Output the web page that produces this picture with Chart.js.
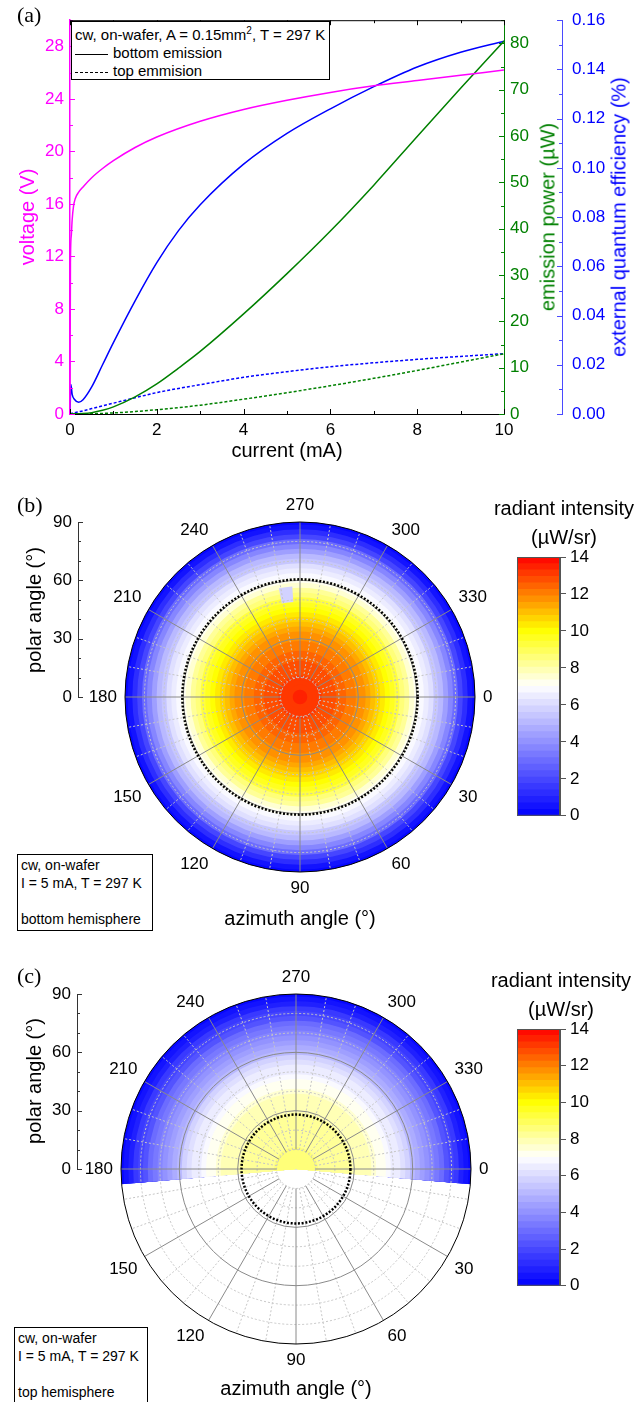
<!DOCTYPE html>
<html>
<head>
<meta charset="utf-8">
<title>LED characteristics and far-field maps</title>
<script src="https://cdn.jsdelivr.net/npm/chart.js@4.4.1/dist/chart.umd.min.js"></script>
<style>
  body { margin: 0; width: 643px; height: 1402px; position: relative; overflow: hidden; background: #fff;
         font-family: "Liberation Sans", Arial, sans-serif; color: #000; }
  canvas { position: absolute; }
  .t { position: absolute; white-space: nowrap; transform: translate(-50%, -50%); font-size: 20px; }
  .r { transform: translate(-50%, -50%) rotate(-90deg); }
  .p { position: absolute; font-family: "Liberation Serif", "Times New Roman", serif; font-size: 22px; }
  .box { position: absolute; border: 1px solid #000; background: #fff; font-size: 14px; line-height: 18px;
         box-sizing: border-box; white-space: nowrap; }
  .ls { display: inline-block; width: 33px; border-top: 1px solid #000; vertical-align: middle; margin: 0 5px 0 0; }
  .ls.dash { border-top: 1px dashed #000; }
</style>
</head>
<body>
<canvas id="chartA" width="643" height="470" style="left:0;top:0"></canvas>
<canvas id="chartB" width="643" height="470" style="left:0;top:490px"></canvas>
<canvas id="barB" width="163" height="340" style="left:480px;top:490px"></canvas>
<canvas id="chartC" width="643" height="442" style="left:0;top:960px"></canvas>
<canvas id="barC" width="163" height="340" style="left:480px;top:960px"></canvas>

<!-- panel (a) text -->
<div class="p" style="left:17px;top:2px">(a)</div>
<div class="box" style="left:71px;top:21px;width:259px;height:59px;font-size:15px;padding:4px 0 0 3px">
  cw, on-wafer, A = 0.15mm<sup style="font-size:10px;line-height:0">2</sup>, T = 297 K<br>
  <span class="ls"></span>bottom emission<br>
  <span class="ls dash"></span>top emmision
</div>
<div class="t r" style="left:27px;top:217px;color:#f0f">voltage (V)</div>
<div class="t r" style="left:548px;top:217px;color:#008000">emission power (µW)</div>
<div class="t r" style="left:619px;top:217px;color:#00f">external quantum efficiency (%)</div>
<div class="t" style="left:287px;top:450px">current (mA)</div>

<!-- panel (b) text -->
<div class="p" style="left:17px;top:492px">(b)</div>
<div class="t" style="left:564px;top:508px">radiant intensity</div>
<div class="t" style="left:564px;top:537px">(µW/sr)</div>
<div class="t r" style="left:34px;top:610px">polar angle (°)</div>
<div class="t" style="left:300px;top:918px">azimuth angle (°)</div>
<div class="box" style="left:17px;top:854px;width:136px;height:77px;padding:1px 0 0 3px">
  cw, on-wafer<br>I = 5 mA, T = 297 K<br><br>bottom hemisphere
</div>

<!-- panel (c) text -->
<div class="p" style="left:17px;top:963px">(c)</div>
<div class="t" style="left:561px;top:980px">radiant intensity</div>
<div class="t" style="left:561px;top:1009px">(µW/sr)</div>
<div class="t r" style="left:34px;top:1081px">polar angle (°)</div>
<div class="t" style="left:296px;top:1388px">azimuth angle (°)</div>
<div class="box" style="left:14px;top:1327px;width:134px;height:80px;padding:1px 0 0 3px">
  cw, on-wafer<br>I = 5 mA, T = 297 K<br><br>top hemisphere
</div>

<script>
Chart.defaults.font.family = '"Liberation Sans", Arial, sans-serif';

// ---------- panel (a): electro-optical characteristics ----------
const currentV = [0, 0.01, 0.03, 0.05, 0.08, 0.12, 0.2, 0.3, 0.5, 0.75, 1, 1.5, 2, 3, 4, 5, 6, 7, 8, 9, 10];
const voltage  = [0, 11.5, 13.6, 14.8, 15.8, 16.4, 16.9, 17.3, 18.0, 18.7, 19.3, 20.3, 21.1, 22.3, 23.2, 23.9, 24.5, 25.0, 25.4, 25.8, 26.2];

const currentL    = [0, 0.02, 0.05, 0.1, 0.2, 0.3, 0.5, 0.75, 1, 1.5, 2, 2.5, 3, 4, 5, 6, 7, 8, 9, 10];
const eqeBottom   = [0, 0.012, 0.008, 0.006, 0.0048, 0.0058, 0.011, 0.020, 0.029, 0.046, 0.0615, 0.0745, 0.085, 0.1015, 0.114, 0.124, 0.133, 0.141, 0.147, 0.1515];
const eqeTop      = [0, 0.0001, 0.0003, 0.0005, 0.0009, 0.0013, 0.0022, 0.0033, 0.0044, 0.0066, 0.0087, 0.0104, 0.0119, 0.0149, 0.0172, 0.0192, 0.0208, 0.0222, 0.0234, 0.0245];
const powerBottom = [0, 0, 0.02, 0.03, 0.05, 0.09, 0.29, 0.8, 1.54, 3.7, 6.5, 9.9, 13.5, 21.6, 30.3, 39.5, 49.4, 59.9, 70.3, 80.5];
const powerTop    = [0, 0, 0, 0, 0, 0.02, 0.06, 0.13, 0.23, 0.53, 0.92, 1.38, 1.9, 3.2, 4.6, 6.1, 7.7, 9.4, 11.2, 13.0];

// ---------- panels (b), (c): radiant intensity vs polar angle ----------
const polarBins = [0, 2.5, 5, 7.5, 10, 12.5, 15, 17.5, 20, 22.5, 25, 27.5, 30, 32.5, 35, 37.5, 40, 42.5, 45,
                   47.5, 50, 52.5, 55, 57.5, 60, 62.5, 65, 67.5, 70, 72.5, 75, 77.5, 80, 82.5, 85, 87.5, 90];
const intensityBottom = [13.3, 13.3, 13.2, 13.1, 13.0, 12.9, 12.8, 12.7, 12.5, 12.4, 12.2, 12.0, 11.8, 11.6, 11.3, 11.0, 10.7, 10.3, 10.0,
                         9.6, 9.2, 8.7, 8.2, 7.6, 7.1, 6.8, 6.4, 6.0, 5.5, 4.9, 4.3, 3.6, 2.8, 2.0, 1.2, 0.5, 0.1];
const intensityTop    = [8.5, 8.5, 8.5, 8.4, 8.4, 8.3, 8.3, 8.3, 8.2, 8.2, 8.1, 8.1, 8.0, 7.9, 7.8, 7.7, 7.5, 7.3, 7.1,
                         6.9, 6.6, 6.3, 6.0, 5.6, 5.2, 4.8, 4.4, 4.0, 3.6, 3.2, 2.8, 2.3, 1.9, 1.4, 0.9, 0.4, 0.1];
// small dip in the bottom map
const spotAzimuth = [259, 266];
const spotPolar   = [49, 57];
const spotValue   = 5.6;

const azimuthTicks = [0, 30, 60, 90, 120, 150, 180, 210, 240, 270, 300, 330];
const cbStep = 0.35;   // colour levels of the colour bar
const D = Math.PI / 180;

// blue -> white -> yellow -> red, stepped like the colour bar
function heatColor(v) {
  const q = (Math.min(Math.floor(v / cbStep), 14 / cbStep - 1) + 0.5) * cbStep;
  let r, g, b;
  if (q <= 7) { r = g = Math.round(255 * q / 7); b = 255; }
  else if (q <= 10) { r = g = 255; b = Math.round(255 * (1 - (q - 7) / 3)); }
  else { r = 255; g = Math.round(255 * (1 - Math.min(1, (q - 10) / 4))); b = 0; }
  return 'rgb(' + r + ',' + g + ',' + b + ')';
}

const xy = (xs, ys) => xs.map((x, i) => ({ x: x, y: ys[i] }));

// inward major/minor ticks in the Origin style
function ticksPlugin(list, topFrame) {
  return {
    id: 'inTicks',
    afterDraw(chart) {
      const ctx = chart.ctx, a = chart.chartArea;
      ctx.save();
      ctx.lineWidth = 1;
      for (const t of list) {
        const s = chart.scales[t.scale];
        ctx.strokeStyle = t.color;
        ctx.beginPath();
        for (const [vals, len] of [[t.major, 5], [t.minor, 3]]) {
          for (const v of vals) {
            const p = Math.round(s.getPixelForValue(v)) + 0.5;
            if (t.side === 'left') { ctx.moveTo(s.right, p); ctx.lineTo(s.right + len, p); }
            else if (t.side === 'right') { ctx.moveTo(s.left, p); ctx.lineTo(s.left - len, p); }
            else if (t.side === 'bottom') { ctx.moveTo(p, s.top); ctx.lineTo(p, s.top - len); }
            else { ctx.moveTo(p, a.top); ctx.lineTo(p, a.top + len); }
          }
        }
        ctx.stroke();
      }
      if (topFrame) {
        ctx.strokeStyle = '#000';
        ctx.beginPath();
        ctx.moveTo(a.left, a.top + 0.5);
        ctx.lineTo(a.right, a.top + 0.5);
        ctx.stroke();
      }
      ctx.restore();
    }
  };
}

const axisBase = (color, size) => ({
  grid: { drawOnChartArea: false, drawTicks: false },
  border: { color: color, width: size || 1 }
});

new Chart(document.getElementById('chartA'), {
  type: 'line',
  data: {
    datasets: [
      { label: 'voltage', data: xy(currentV, voltage), yAxisID: 'yV', borderColor: '#ff00ff' },
      { label: 'power bottom', data: xy(currentL, powerBottom), yAxisID: 'yP', borderColor: '#008000' },
      { label: 'power top', data: xy(currentL, powerTop), yAxisID: 'yP', borderColor: '#008000', borderDash: [3, 2] },
      { label: 'EQE bottom', data: xy(currentL, eqeBottom), yAxisID: 'yE', borderColor: '#0000ff' },
      { label: 'EQE top', data: xy(currentL, eqeTop), yAxisID: 'yE', borderColor: '#0000ff', borderDash: [3, 2] }
    ]
  },
  options: {
    responsive: false,
    animation: false,
    layout: { padding: { top: 20, left: 0, right: 0, bottom: 0 } },
    elements: { point: { radius: 0 }, line: { borderWidth: 1.5, cubicInterpolationMode: 'monotone' } },
    plugins: { legend: { display: false }, tooltip: { enabled: false } },
    scales: {
      x: Object.assign(axisBase('#000'), {
        type: 'linear', min: 0, max: 10,
        ticks: { stepSize: 2, padding: 6, color: '#000', font: { size: 17 } },
        afterFit: s => { s.height = 56; }
      }),
      yV: Object.assign(axisBase('#ff00ff', 1.5), {
        position: 'left', min: 0, max: 30,
        ticks: { stepSize: 4, padding: 6, color: '#ff00ff', font: { size: 17 }, callback: v => (v % 4 === 0 ? v : null) },
        afterFit: s => { s.width = 70; }
      }),
      yP: Object.assign(axisBase('#008000'), {
        position: 'right', min: 0, max: 85,
        ticks: { stepSize: 10, padding: 6, color: '#008000', font: { size: 17 }, callback: v => (v % 10 === 0 ? v : null) },
        afterFit: s => { s.width = 58; }
      }),
      yE: Object.assign(axisBase('#4a4aff'), {
        position: 'right', min: 0, max: 0.16,
        ticks: { stepSize: 0.02, padding: 10, color: '#0000ff', font: { size: 17 }, callback: v => v.toFixed(2) },
        afterFit: s => { s.width = 81; }
      })
    }
  },
  plugins: [ticksPlugin([
    { scale: 'x', side: 'bottom', color: '#000', major: [0, 2, 4, 6, 8, 10], minor: [1, 3, 5, 7, 9] },
    { scale: 'x', side: 'top', color: '#000', major: [0, 2, 4, 6, 8, 10], minor: [1, 3, 5, 7, 9] },
    { scale: 'yV', side: 'left', color: '#ff00ff', major: [0, 4, 8, 12, 16, 20, 24, 28], minor: [2, 6, 10, 14, 18, 22, 26, 30] },
    { scale: 'yP', side: 'right', color: '#008000', major: [0, 10, 20, 30, 40, 50, 60, 70, 80], minor: [5, 15, 25, 35, 45, 55, 65, 75, 85] },
    { scale: 'yE', side: 'right', color: '#4a4aff', major: [0, 0.02, 0.04, 0.06, 0.08, 0.1, 0.12, 0.14, 0.16], minor: [0.01, 0.03, 0.05, 0.07, 0.09, 0.11, 0.13, 0.15] }
  ], true)]
});

// polar intensity map drawn through the chart's x (degrees) and y (polar angle) scales
function polarMapPlugin(cfg) {
  return {
    id: 'polarMap',
    afterDraw(chart) {
      const ctx = chart.ctx, xs = chart.scales.x, ys = chart.scales.y;
      const cx = xs.getPixelForValue(0), cy = ys.getPixelForValue(0);
      const rp = v => xs.getPixelForValue(v) - cx;
      ctx.save();
      const a0 = cfg.azFrom * D, a1 = cfg.azTo * D;
      for (let i = polarBins.length - 1; i >= 0; i--) {
        ctx.beginPath();
        ctx.moveTo(cx, cy);
        ctx.arc(cx, cy, rp(Math.min(90, polarBins[i] + 1.25)), a0, a1);
        ctx.closePath();
        ctx.fillStyle = heatColor(cfg.values[i]);
        ctx.fill();
      }
      if (cfg.spot) {
        ctx.beginPath();
        ctx.arc(cx, cy, rp(spotPolar[1]), spotAzimuth[0] * D, spotAzimuth[1] * D);
        ctx.arc(cx, cy, rp(spotPolar[0]), spotAzimuth[1] * D, spotAzimuth[0] * D, true);
        ctx.closePath();
        ctx.fillStyle = heatColor(spotValue);
        ctx.fill();
      }
      const ray = (az, r0, r1) => {
        const c = Math.cos(az * D), s = Math.sin(az * D);
        ctx.moveTo(cx + rp(r0) * c, cy + rp(r0) * s);
        ctx.lineTo(cx + rp(r1) * c, cy + rp(r1) * s);
      };
      const ring = r => { ctx.moveTo(cx + rp(r), cy); ctx.arc(cx, cy, rp(r), 0, 2 * Math.PI); };
      // fine dotted grid
      ctx.lineWidth = 1;
      ctx.strokeStyle = '#c6c6c6';
      ctx.setLineDash([2, 2]);
      ctx.beginPath();
      [10, 20, 40, 50, 70, 80].forEach(ring);
      for (let az = 0; az < 360; az += 10) if (az % 30) ray(az, 10, 90);
      ctx.stroke();
      // main grid
      ctx.setLineDash([]);
      ctx.strokeStyle = '#8a8a8a';
      ctx.beginPath();
      [30, 60].forEach(ring);
      for (let az = 0; az < 360; az += 30) ray(az, 10, 90);
      ctx.stroke();
      ctx.strokeStyle = '#000';
      ctx.beginPath();
      ring(90);
      ctx.stroke();
      // emission cone edge
      ctx.lineWidth = 2.5;
      ctx.setLineDash([2, 1.7]);
      ctx.beginPath();
      ring(cfg.edge);
      ctx.stroke();
      ctx.setLineDash([]);
      // azimuth labels
      ctx.fillStyle = '#000';
      ctx.font = '17px "Liberation Sans", Arial, sans-serif';
      const rl = rp(90) + 8;
      for (const az of azimuthTicks) {
        const c = Math.cos(az * D), s = Math.sin(az * D);
        ctx.textAlign = c > 0.2 ? 'left' : (c < -0.2 ? 'right' : 'center');
        ctx.textBaseline = s > 0.2 ? 'top' : (s < -0.2 ? 'bottom' : 'middle');
        ctx.fillText(String(az), cx + rl * c, cy + rl * s);
      }
      ctx.restore();
    }
  };
}

function polarChart(id, cfg) {
  const canvas = document.getElementById(id);
  const pxPerDeg = cfg.radius / 90;
  const right = 500;
  return new Chart(canvas, {
    type: 'scatter',
    data: { datasets: [] },
    options: {
      responsive: false,
      animation: false,
      layout: { padding: { top: cfg.top, bottom: canvas.height - cfg.top - cfg.radius, left: 0, right: canvas.width - right } },
      plugins: { legend: { display: false }, tooltip: { enabled: false } },
      scales: {
        x: { type: 'linear', display: false, min: -(cfg.cx - cfg.axisX) / pxPerDeg, max: (right - cfg.cx) / pxPerDeg },
        y: {
          type: 'linear', position: 'left', min: 0, max: 90,
          ticks: { stepSize: 30, padding: 6, color: '#000', font: { size: 17 } },
          grid: { drawOnChartArea: false, drawTicks: false },
          border: { color: '#333' },
          afterFit: s => { s.width = cfg.axisX; }
        }
      }
    },
    plugins: [polarMapPlugin(cfg), ticksPlugin([
      { scale: 'y', side: 'left', color: '#333', major: [0, 30, 60, 90], minor: [10, 20, 40, 50, 70, 80] }
    ], false)]
  });
}

const framePlugin = {
  id: 'cbFrame',
  afterDraw(chart) {
    const { ctx, chartArea: a } = chart;
    ctx.save();
    ctx.strokeStyle = '#555';
    ctx.lineWidth = 1;
    ctx.strokeRect(a.left + 0.5, a.top + 0.5, a.right - a.left - 1, a.bottom - a.top - 1);
    ctx.restore();
  }
};

function colourBar(id, areaTop) {
  const bands = [];
  for (let k = Math.round(14 / cbStep); k >= 1; k--) bands.push({ x: 'cb', y: k * cbStep });
  return new Chart(document.getElementById(id), {
    type: 'bar',
    data: {
      labels: ['cb'],
      datasets: [{
        data: bands,
        backgroundColor: bands.map(b => heatColor(b.y - cbStep / 2)),
        borderWidth: 0, barPercentage: 1, categoryPercentage: 1
      }]
    },
    options: {
      responsive: false,
      animation: false,
      layout: { padding: { left: 37, top: areaTop, bottom: 340 - areaTop - 261, right: 0 } },
      plugins: { legend: { display: false }, tooltip: { enabled: false } },
      scales: {
        x: { display: false },
        y: {
          position: 'right', min: 0, max: 14,
          ticks: { stepSize: 2, padding: 4, color: '#000', font: { size: 17 } },
          grid: { drawOnChartArea: false, tickLength: 6, tickColor: '#555' },
          border: { color: '#555' },
          afterFit: s => { s.width = 83; }
        }
      }
    },
    plugins: [framePlugin]
  });
}

polarChart('chartB', { cx: 300, axisX: 78, top: 32, radius: 175, azFrom: 0, azTo: 360, values: intensityBottom, edge: 60.5, spot: true });
polarChart('chartC', { cx: 296, axisX: 77, top: 34, radius: 175, azFrom: 175, azTo: 365, values: intensityTop, edge: 28, spot: false });
colourBar('barB', 67);
colourBar('barC', 69);
</script>
</body>
</html>
